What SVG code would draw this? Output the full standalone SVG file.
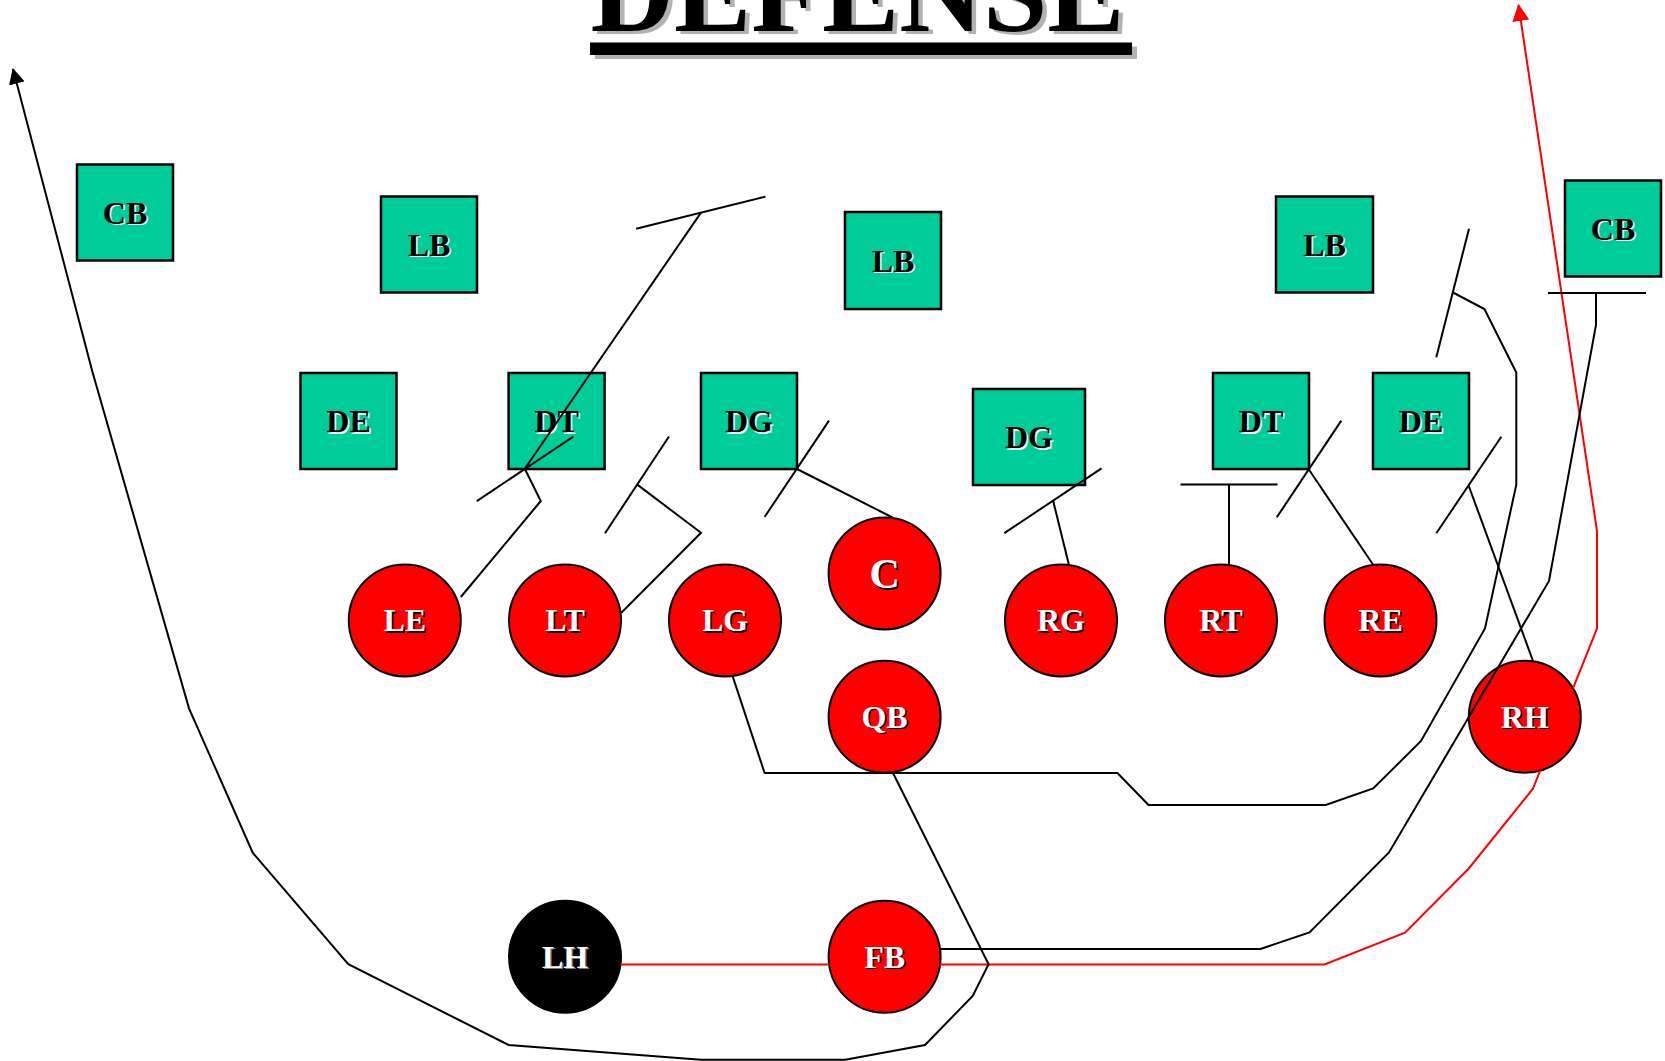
<svg xmlns="http://www.w3.org/2000/svg" width="1665" height="1061" viewBox="0 0 1665 1061">
<defs>
<marker id="arrowBlack" markerUnits="userSpaceOnUse" markerWidth="16" markerHeight="16" viewBox="0 0 16 16" refX="15" refY="8" orient="auto"><path d="M0,0 L16,8 L0,16 z" fill="#000"/></marker>
<marker id="arrowRed" markerUnits="userSpaceOnUse" markerWidth="17" markerHeight="17" viewBox="0 0 16 16" refX="15" refY="8" orient="auto"><path d="M0,0 L16,8 L0,16 z" fill="#FF0000"/></marker>
</defs>
<style>
.box{fill:#00CC99;stroke:#000;stroke-width:2.5}
.player{fill:#FF0000;stroke:#000;stroke-width:2}
.back{fill:#000;stroke:#000;stroke-width:2}
.lbl{font-family:"Liberation Serif","Times New Roman",serif;font-weight:bold;font-size:32px;text-anchor:middle}
.big{font-size:42px}
.txtDark{fill:#000}
.shLight{fill:#F2F2F2}
.txtWhite{fill:#FFFFFF}
.shDark{fill:#000}
.shGray{fill:#777}
.route{fill:none;stroke:#000;stroke-width:2;stroke-linejoin:miter}
.redroute{fill:none;stroke:#FF0000;stroke-width:2}
.title{font-family:"Liberation Serif","Times New Roman",serif;font-weight:bold;font-size:116px}
</style>
<rect x="0" y="0" width="1665" height="1061" fill="#FFFFFF"/>

<g id="title">
<text class="title" x="595" y="34" fill="#B2B2B2" textLength="534" lengthAdjust="spacingAndGlyphs">DEFENSE</text>
<text class="title" x="590.5" y="31" fill="#000" textLength="534" lengthAdjust="spacingAndGlyphs">DEFENSE</text>
<rect x="595" y="46.5" width="542" height="12.5" fill="#B2B2B2"/>
<rect x="590" y="42.5" width="542" height="12.5" fill="#000"/>
</g>

<g id="nodes">
<g id="cb-left"><rect class="box" x="77" y="164.5" width="96" height="96"/><text class="lbl shLight" x="126.5" y="225">CB</text><text class="lbl txtDark" x="125" y="223.5">CB</text></g>
<g id="lb-1"><rect class="box" x="381" y="196.5" width="96" height="96"/><text class="lbl shLight" x="430.5" y="257">LB</text><text class="lbl txtDark" x="429" y="255.5">LB</text></g>
<g id="lb-2"><rect class="box" x="845" y="212" width="96" height="97"/><text class="lbl shLight" x="894.5" y="273">LB</text><text class="lbl txtDark" x="893" y="271.5">LB</text></g>
<g id="lb-3"><rect class="box" x="1276" y="196.5" width="97" height="96"/><text class="lbl shLight" x="1326" y="257">LB</text><text class="lbl txtDark" x="1324.5" y="255.5">LB</text></g>
<g id="cb-right"><rect class="box" x="1565" y="180.5" width="96" height="96"/><text class="lbl shLight" x="1614.5" y="241">CB</text><text class="lbl txtDark" x="1613" y="239.5">CB</text></g>
<g id="de-left"><rect class="box" x="300.5" y="373" width="96" height="96"/><text class="lbl shLight" x="350" y="433.5">DE</text><text class="lbl txtDark" x="348.5" y="432">DE</text></g>
<g id="dt-left"><rect class="box" x="508.6" y="373" width="96" height="96"/><text class="lbl shLight" x="558.1" y="433.5">DT</text><text class="lbl txtDark" x="556.6" y="432">DT</text></g>
<g id="dg-left"><rect class="box" x="701" y="373" width="96" height="96"/><text class="lbl shLight" x="750.5" y="433.5">DG</text><text class="lbl txtDark" x="749" y="432">DG</text></g>
<g id="dg-right"><rect class="box" x="973" y="389" width="112" height="96"/><text class="lbl shLight" x="1030.5" y="449.5">DG</text><text class="lbl txtDark" x="1029" y="448">DG</text></g>
<g id="dt-right"><rect class="box" x="1213" y="373" width="96" height="96"/><text class="lbl shLight" x="1262.5" y="433.5">DT</text><text class="lbl txtDark" x="1261" y="432">DT</text></g>
<g id="de-right"><rect class="box" x="1373" y="373" width="96" height="96"/><text class="lbl shLight" x="1422.5" y="433.5">DE</text><text class="lbl txtDark" x="1421" y="432">DE</text></g>

<g id="le"><circle class="player" cx="404.8" cy="620.4" r="56"/><text class="lbl shDark" x="406.3" y="632.5">LE</text><text class="lbl txtWhite" x="404.8" y="631">LE</text></g>
<g id="lt"><circle class="player" cx="565" cy="620.4" r="56"/><text class="lbl shDark" x="566.5" y="632.5">LT</text><text class="lbl txtWhite" x="565" y="631">LT</text></g>
<g id="lg"><circle class="player" cx="725" cy="620.4" r="56"/><text class="lbl shDark" x="726.5" y="632.5">LG</text><text class="lbl txtWhite" x="725" y="631">LG</text></g>
<g id="c"><circle class="player" cx="884.6" cy="573.4" r="56"/><text class="lbl big shDark" x="886.1" y="589.5">C</text><text class="lbl big txtWhite" x="884.6" y="588">C</text></g>
<g id="rg"><circle class="player" cx="1061" cy="620.4" r="56"/><text class="lbl shDark" x="1062.5" y="632.5">RG</text><text class="lbl txtWhite" x="1061" y="631">RG</text></g>
<g id="rt"><circle class="player" cx="1221" cy="620.4" r="56"/><text class="lbl shDark" x="1222.5" y="632.5">RT</text><text class="lbl txtWhite" x="1221" y="631">RT</text></g>
<g id="re"><circle class="player" cx="1380.5" cy="620.4" r="56"/><text class="lbl shDark" x="1382" y="632.5">RE</text><text class="lbl txtWhite" x="1380.5" y="631">RE</text></g>
<g id="qb"><circle class="player" cx="884.6" cy="716.8" r="56"/><text class="lbl shDark" x="886.1" y="729">QB</text><text class="lbl txtWhite" x="884.6" y="727.5">QB</text></g>
<g id="rh"><circle class="player" cx="1524.8" cy="716.8" r="56"/><text class="lbl shDark" x="1526.3" y="729">RH</text><text class="lbl txtWhite" x="1524.8" y="727.5">RH</text></g>
<g id="lh"><circle class="back" cx="565" cy="956.8" r="56"/><text class="lbl shGray" x="566.5" y="969">LH</text><text class="lbl txtWhite" x="565" y="967.5">LH</text></g>
<g id="fb"><circle class="player" cx="884.6" cy="956.8" r="56"/><text class="lbl shDark" x="886.1" y="969">FB</text><text class="lbl txtWhite" x="884.6" y="967.5">FB</text></g>
</g>

<g id="connectors">
<path class="redroute" marker-end="url(#arrowRed)" d="M620.5,964.5 L829.1,964.5 M940.1,964.5 L1324.5,964.5 L1405,932.6 L1468.8,868.5 L1532.8,789 L1540.2,770.5 M1573,688.4 L1597,628.5 L1597,531 L1518.5,5"/>
<path class="route" marker-end="url(#arrowBlack)" d="M893,773 L988.6,964.2 L972.7,996 L925,1045 L845.3,1059.8 L700.9,1059.8 L508.6,1045 L348.3,964.2 L252.7,852.7 L189,708.3 L92.4,371.7 L13,69"/>
<path class="route" d="M732.7,676.4 L764.6,773 L1117.5,773 L1148.5,805 L1325.7,805 L1373.2,788.5 L1421,741 L1485,628.5 L1516.3,484.6 L1516.3,372.5 L1484.4,309 L1453,292.5"/>
<path class="route" d="M1436.3,357.3 L1469,228.7"/>
<path class="route" d="M940.5,949 L1260.5,949 L1309.5,932.5 L1389,852.5 L1549,581 L1596,325 L1596,293"/>
<path class="route" d="M1548,293 L1646,293"/>
<path class="route" d="M1308.7,469.3 L1373,564.5"/>
<path class="route" d="M1276.8,517.3 L1341.3,420.6"/>
<path class="route" d="M1180.5,484.5 L1277.5,484.5 M1229,484.5 L1229,564.5"/>
<path class="route" d="M1053.2,501 L1068.9,564.8"/>
<path class="route" d="M1004.3,533.2 L1101.5,468.3"/>
<path class="route" d="M797,469 L892.5,517.5"/>
<path class="route" d="M764.6,517 L829,420.6"/>
<path class="route" d="M605,533.2 L669,436.5"/>
<path class="route" d="M637.3,484.6 L701,532.8 L621.3,612.7"/>
<path class="route" d="M460.8,597 L540.8,501 L524.8,468.8 L701,212.6"/>
<path class="route" d="M476.8,501.1 L573.5,436.5"/>
<path class="route" d="M636.1,228.8 L765.5,196.6"/>
<path class="route" d="M1468.6,485.5 L1533,661"/>
<path class="route" d="M1436.3,533.3 L1501.3,436.7"/>
</g>
</svg>
